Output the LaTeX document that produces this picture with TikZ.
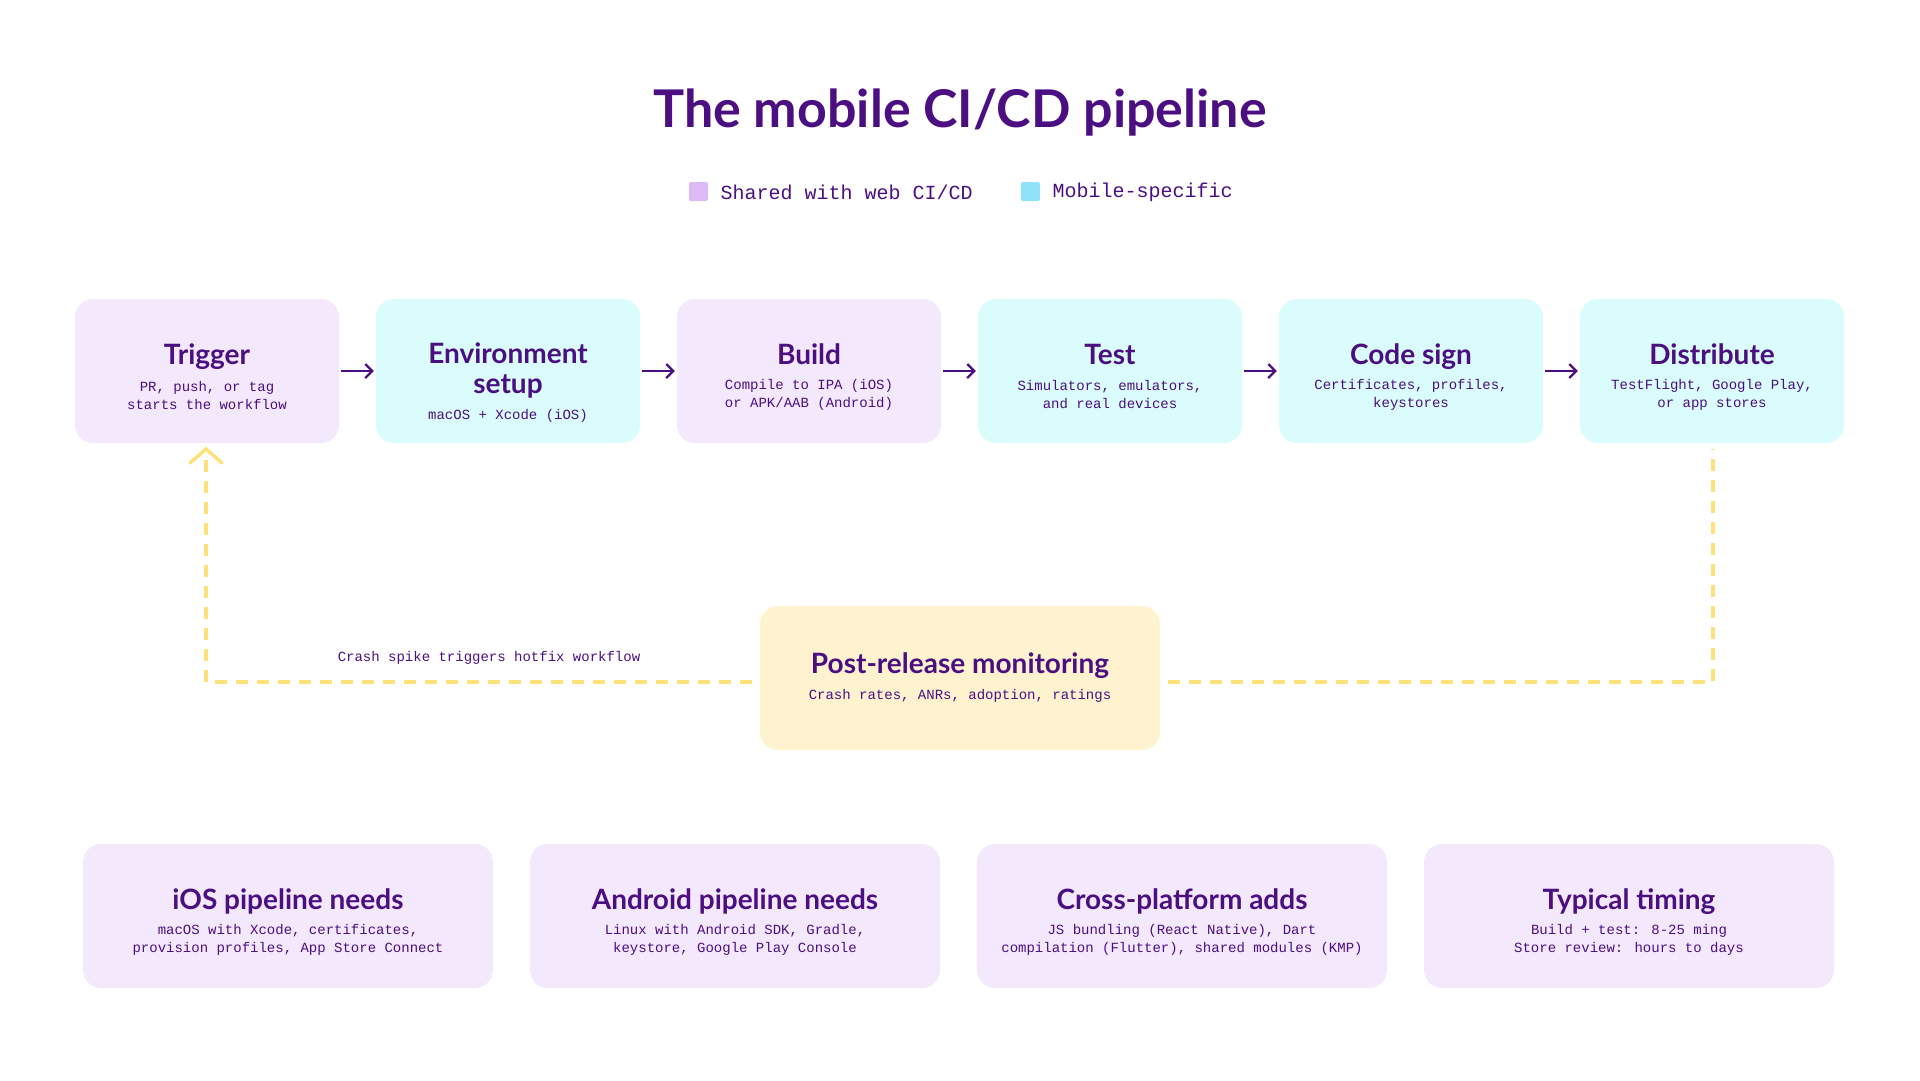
\documentclass[tikz,border=0pt]{standalone}
\usepackage{fontspec}
\setmainfont{Lato}
\newfontfamily\monof{Liberation Mono}
\usetikzlibrary{arrows.meta}
\definecolor{ink}{HTML}{4B0F82}
\definecolor{shared}{HTML}{F4E8FC}
\definecolor{mobile}{HTML}{DAFCFC}
\definecolor{monitor}{HTML}{FFF3CF}
\definecolor{loopcol}{HTML}{FDE17A}
\definecolor{sharedkey}{HTML}{DDB9F6}
\definecolor{mobilekey}{HTML}{8EE3F8}
\tikzset{
  stage/.style={rounded corners=18pt, minimum width=264pt, minimum height=144pt, inner sep=0pt},
  info/.style={rounded corners=18pt, minimum width=410pt, minimum height=144pt, inner sep=0pt, fill=shared},
  head/.style={text=ink, font=\fontsize{28}{30}\selectfont\bfseries, align=center, anchor=base},
  sub/.style={text=ink, font=\monof\fontsize{14}{18}\selectfont, align=center},
  flow/.style={ink, line width=2.2pt, -{Straight Barb[length=7pt,width=14pt]}},
  back/.style={draw=loopcol, line width=3.5pt, dash pattern=on 12pt off 9pt}
}
\begin{document}
\begin{tikzpicture}[x=1pt,y=-1pt]
\useasboundingbox (0,0) rectangle (1920,1080);
\node[text=ink, font=\fontsize{52}{56}\selectfont\bfseries] (title) at (960,113) {The mobile CI/CD pipeline};
% legend
\fill[sharedkey, rounded corners=2pt] (689,182) rectangle (708,201);
\node[sub, font=\monof\fontsize{20}{22}\selectfont, anchor=west] (keyA) at (717,192) {Shared with web CI/CD};
\fill[mobilekey, rounded corners=2pt] (1021,182) rectangle (1040,201);
\node[sub, font=\monof\fontsize{20}{22}\selectfont, anchor=west] (keyB) at (1049,192) {Mobile-specific};
% stages
\node[stage, fill=shared] (trig) at (207,371) {};
\node[stage, fill=mobile] (env) at (508,371) {};
\node[stage, fill=shared] (build) at (809,371) {};
\node[stage, fill=mobile] (test) at (1110,371) {};
\node[stage, fill=mobile] (sign) at (1411,371) {};
\node[stage, fill=mobile] (dist) at (1712,371) {};
\node[head] at (207,364) {Trigger};
\node[sub] at (207,395) {PR, push, or tag\\starts the workflow};
\node[head, anchor=center] at (508,370) {Environment\\setup};
\node[sub] at (508,416) {macOS + Xcode (iOS)};
\node[head] at (809,364) {Build};
\node[sub] at (809,395) {Compile to IPA (iOS)\\or APK/AAB (Android)};
\node[head] at (1110,364) {Test};
\node[sub] at (1110,395) {Simulators, emulators,\\and real devices};
\node[head] at (1411,364) {Code sign};
\node[sub] at (1411,395) {Certificates, profiles,\\keystores};
\node[head] at (1712,364) {Distribute};
\node[sub] at (1712,395) {TestFlight, Google Play,\\or app stores};
\foreach \a/\b in {trig/env, env/build, build/test, test/sign, sign/dist}
  \draw[flow] (\a.east) ++(2,0) -- ([xshift=-2pt]\b.west);
% monitoring loop
\node[stage, fill=monitor, minimum width=400pt] (mon) at (960,678) {};
\node[head] at (960,673) {Post-release monitoring};
\node[sub] at (960,696) {Crash rates, ANRs, adoption, ratings};
\coordinate (upR) at (1713,449);
\coordinate (upL) at (206,453);
\draw[back] (mon.east) ++(8,4) -- (1713,682) -- (upR);
\draw[back] (mon.west) ++(-8,4) -- (206,682) -- (upL);
\draw[loopcol, line width=3.5pt, line cap=round] (190,463) -- (206,449) -- (222,463);
\node[sub] (hotfix) at (489,658) {Crash spike triggers hotfix workflow};
% bottom notes
\node[info] (ios) at (288,916) {};
\node[head] at (288,909) {iOS pipeline needs};
\node[sub] at (288,940) {macOS with Xcode, certificates,\\provision profiles, App Store Connect};
\node[info] (android) at (735,916) {};
\node[head] at (735,909) {Android pipeline needs};
\node[sub] at (735,940) {Linux with Android SDK, Gradle,\\keystore, Google Play Console};
\node[info] (cross) at (1182,916) {};
\node[head] at (1182,909) {Cross-platform adds};
\node[sub] at (1182,940) {JS bundling (React Native), Dart\\compilation (Flutter), shared modules (KMP)};
\node[info] (timing) at (1629,916) {};
\node[head] at (1629,909) {Typical timing};
\node[sub] at (1629,940) {Build + test: 8-25 ming\\Store review: hours to days};
\end{tikzpicture}
\end{document}
